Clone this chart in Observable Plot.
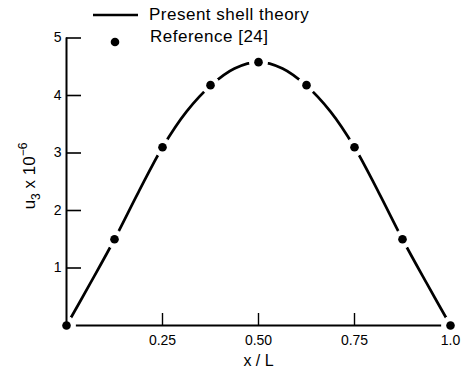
<!DOCTYPE html>
<html>
<head>
<meta charset="utf-8">
<script src="https://cdn.jsdelivr.net/npm/d3@7"></script>
<script src="https://cdn.jsdelivr.net/npm/@observablehq/plot@0.6"></script>
<style>
  html, body { margin: 0; padding: 0; background: #fff; }
  svg { font-family: "Liberation Sans", Arial, sans-serif; }
</style>
</head>
<body>
<div id="chart"></div>
<script>
// Present shell theory (curve)
const curveX = [0, 0.0625, 0.125, 0.1875, 0.25, 0.3125, 0.375, 0.4375, 0.5, 0.5625, 0.625, 0.6875, 0.75, 0.8125, 0.875, 0.9375, 1.0];
const curveU = [0, 0.74, 1.5, 2.32, 3.1, 3.72, 4.17, 4.47, 4.58, 4.47, 4.17, 3.72, 3.1, 2.32, 1.5, 0.74, 0];
// Reference [24] (points)
const refX = [0, 0.125, 0.25, 0.375, 0.5, 0.625, 0.75, 0.875, 1.0];
const refU = [0, 1.5, 3.1, 4.18, 4.58, 4.18, 3.1, 1.5, 0];
// ticks
const xTicks = [0.25, 0.5, 0.75, 1.0];
const xTickLabels = ["0.25", "0.50", "0.75", "1.0"];
const yTicks = [1, 2, 3, 4, 5];
const yTickLabels = ["1", "2", "3", "4", "5"];
const xDomain = [0, 1];
const yDomain = [0, 5];

const curve = curveX.map((x, i) => ({x, u: curveU[i]}));
const ref = refX.map((x, i) => ({x, u: refU[i]}));

const plot = Plot.plot({
  width: 463,
  height: 380,
  marginLeft: 66,
  marginRight: 13,
  marginTop: 37.5,
  marginBottom: 55,
  style: {fontFamily: '"Liberation Sans", Arial, sans-serif', background: "white", color: "black"},
  x: {domain: xDomain},
  y: {domain: yDomain},
  marks: [
    Plot.ruleY([yDomain[0]], {x1: xDomain[0], x2: xDomain[1], stroke: "black", strokeWidth: 2}),
    Plot.line(curve, {x: "x", y: "u", stroke: "black", strokeWidth: 2.7, curve: "catmull-rom"}),
    Plot.dot(ref, {x: "x", y: "u", r: 9, fill: "white", stroke: "white", strokeWidth: 1}),
    Plot.ruleX([xDomain[0]], {y1: yDomain[0], y2: yDomain[1], stroke: "black", strokeWidth: 2}),
    Plot.axisY({ticks: yTicks, tickSize: -15, strokeWidth: 1.6, tickFormat: () => "", label: null}),
    Plot.axisY({ticks: yTicks, tickSize: 0, tickPadding: 5, fontSize: 14, tickFormat: (d) => yTickLabels[yTicks.indexOf(d)], label: null}),
    Plot.axisX({ticks: xTicks.slice(0, 3), tickSize: -12, strokeWidth: 1.4, tickFormat: () => "", label: null}),
    Plot.axisX({ticks: xTicks, tickSize: 0, tickPadding: 10, fontSize: 14, tickFormat: (d) => xTickLabels[xTicks.indexOf(d)], label: null}),
    Plot.text(["x / L"], {frameAnchor: "bottom", dy: 35, fontSize: 16, lineAnchor: "middle", text: (d) => d}),
    Plot.dot(ref, {x: "x", y: "u", r: 4.3, fill: "black", stroke: null})
  ]
});

document.getElementById("chart").appendChild(plot);

const svg = d3.select(plot);
// y-axis label with subscript/superscript
const yl = svg.append("text")
  .attr("transform", "translate(35,176) rotate(-90)")
  .attr("text-anchor", "middle")
  .attr("font-size", 17)
  .attr("fill", "black");
yl.append("tspan").text("u");
yl.append("tspan").attr("font-size", 12).attr("dy", 5).text("3");
yl.append("tspan").attr("dy", -5).text(" x 10");
yl.append("tspan").attr("font-size", 12).attr("dy", -8).text("−6");

// legend
const lg = svg.append("g").attr("fill", "black").attr("text-anchor", "start");
lg.append("line").attr("x1", 93).attr("x2", 138).attr("y1", 15).attr("y2", 15)
  .attr("stroke", "black").attr("stroke-width", 2.7);
lg.append("text").attr("x", 149).attr("y", 20).attr("font-size", 17)
  .attr("text-anchor", "start").attr("letter-spacing", 0.5).text("Present shell theory");
lg.append("circle").attr("cx", 115).attr("cy", 42).attr("r", 4.3);
lg.append("text").attr("x", 150).attr("y", 42).attr("font-size", 17)
  .attr("text-anchor", "start").attr("letter-spacing", 0.5).text("Reference [24]");
</script>
</body>
</html>
